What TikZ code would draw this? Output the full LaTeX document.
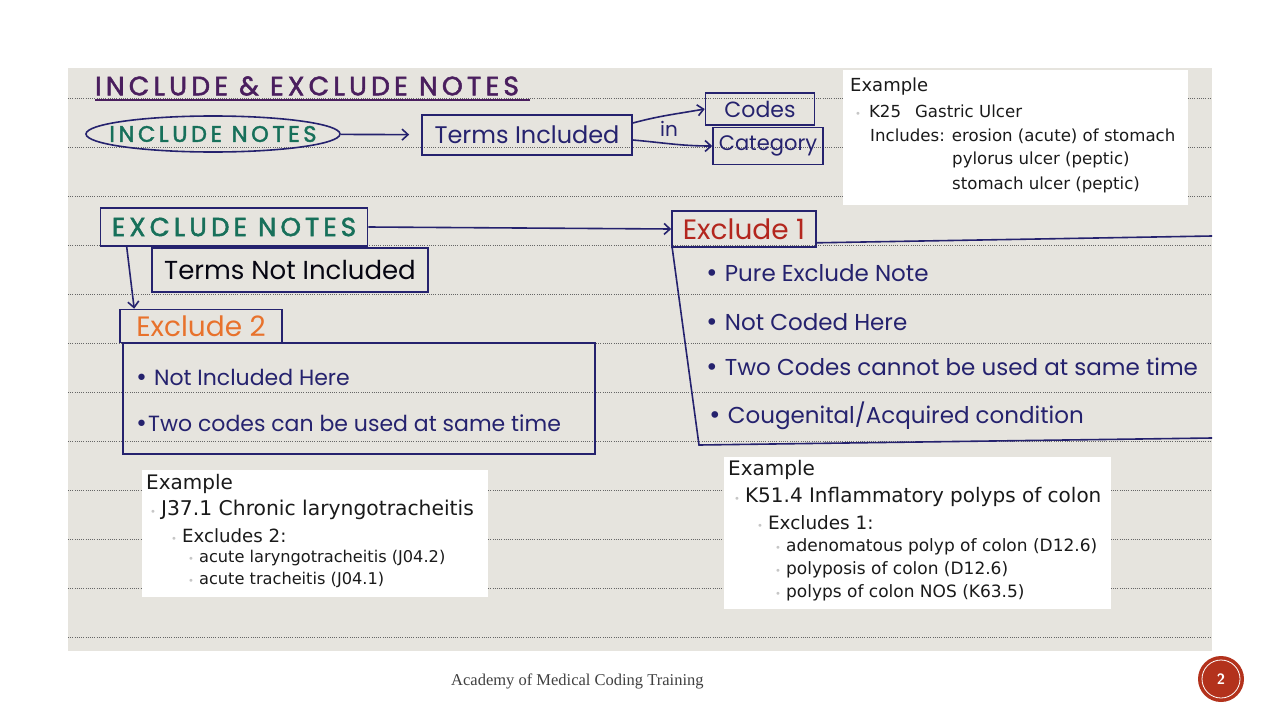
\documentclass[tikz,border=0pt]{standalone}
\usepackage{fontspec}
\usetikzlibrary{shapes.geometric,arrows.meta}
\newfontfamily\handfont{Poppins}
\newfontfamily\handcaps[LetterSpace=16,FakeBold=2]{Poppins}
\newfontfamily\slidefont{DejaVu Sans}
\newfontfamily\footfont{Liberation Serif}
\definecolor{paper}{HTML}{E6E4DE}
\definecolor{ink}{HTML}{25226E}
\definecolor{titlepurple}{HTML}{4A1E5E}
\definecolor{notegreen}{HTML}{17705A}
\definecolor{exorange}{HTML}{E8722C}
\definecolor{exred}{HTML}{B3261E}
\definecolor{slidetext}{HTML}{1A1A1A}
\definecolor{badge}{HTML}{B3321C}
\newcommand\hb{{\slidefont•}}
\newcommand\gb{\textcolor{gray!45}{\fontsize{10}{10}\selectfont•}}

\begin{document}
\begin{tikzpicture}[x=1pt,y=-1pt,
    hf/.style={font=\handfont\fontsize{#1}{#1}\selectfont},
    hc/.style={font=\handcaps\fontsize{#1}{#1}\selectfont},
    lbl/.style={inner sep=0pt, anchor=west},
    box/.style={draw=ink, line width=1.6pt, inner sep=0pt},
    pen/.style={draw=ink, line width=1.6pt},
    arr/.style={draw=ink, line width=1.6pt, -{Straight Barb[length=6pt,width=11pt]}},
    sl/.style={font=\slidefont\fontsize{#1}{#1}\selectfont, text=slidetext, inner sep=0pt, anchor=west},
    card/.style={fill=white, inner sep=0pt, anchor=north west}]
    %page and ruled paper
    \useasboundingbox (0,0) rectangle (1280,720);
    \fill[white] (0,0) rectangle (1280,720);
    \fill[paper] (68,68) rectangle (1212,651);
    \foreach \y in {98,147,...,637}
        \draw[black!60, line width=0.6pt, dash pattern=on 1pt off 1.2pt] (68,\y) -- (1212,\y);

    %title
    \node[lbl, hc=26.5, text=titlepurple] (title) at (95,86) {INCLUDE \& EXCLUDE NOTES};
    \draw[titlepurple, line width=1.3pt] (95,100) -- (530,100);

    %include notes
    \node[ellipse, box, minimum width=254, minimum height=36, inner xsep=-20pt, inner ysep=1pt, hc=22.5, text=notegreen] (incl) at (213,134) {INCLUDE NOTES};
    \node[box, minimum width=210, minimum height=40, hf=24, text=ink] (terms) at (527,135) {Terms Included};
    \node[box, minimum width=109, minimum height=32, hf=22, text=ink] (codes) at (760,109) {Codes};
    \node[box, minimum width=110, minimum height=37, hf=21, text=ink] (cat) at (768,146) {Category};
    \node[lbl, hf=20, text=ink] (in) at (660,129) {in};
    \draw[arr, shorten >=12pt] (incl) -- (terms);
    \draw[arr] ([yshift=12pt]terms.east) to[out=15,in=190] (codes.west);
    \draw[arr] ([yshift=-5pt]terms.east) to[out=-5,in=180] (cat.west);

    %example for include
    \node[card, minimum width=345, minimum height=135] (cardinc) at (843,70) {};
    \node[sl=18] (ci0) at (850,87) {Example};
    \node[sl=16.6] (ci1) at (855,111) {\gb\hspace{8pt}K25\hspace{14pt}Gastric Ulcer};
    \node[sl=16.6] (ci2) at (870,136) {Includes: erosion (acute) of stomach};
    \node[sl=16.6] (ci3) at (952,160) {pylorus ulcer (peptic)};
    \node[sl=16.6] (ci4) at (952,185) {stomach ulcer (peptic)};

    %exclude notes
    \node[box, minimum width=267, minimum height=38, hc=26, text=notegreen] (excl) at (234,227) {EXCLUDE NOTES};
    \node[box, minimum width=276, minimum height=44, hf=26, text=black!85!ink] (notinc) at (290,270) {Terms Not Included};

    %exclude 2
    \node[box, minimum width=162, minimum height=33, hf=28, text=exorange] (ex2) at (201,326) {Exclude 2};
    \node[box, minimum width=472, minimum height=111, anchor=north west] (ex2box) at (122,342) {};
    \node[lbl, hf=22, text=ink] (ex2a) at (135,377) {\hb\ Not Included Here};
    \node[lbl, hf=22, text=ink] (ex2b) at (135,423) {\hb Two codes can be used at same time};
    \draw[arr] ([xshift=27pt]excl.south west) -- ([xshift=15pt]ex2.north west);

    %exclude 1
    \node[box, minimum width=144, minimum height=36, hf=28, text=exred] (ex1) at (744,229) {Exclude 1};
    \draw[pen] ([yshift=5pt]ex1.south east) -- (1212,236);
    \draw[pen] ([xshift=1pt]ex1.south west) -- (699,445) -- (1212,438);
    \node[lbl, hf=23, text=ink] (ex1a) at (705,273) {\hb\ Pure Exclude Note};
    \node[lbl, hf=23, text=ink] (ex1b) at (705,322) {\hb\ Not Coded Here};
    \node[lbl, hf=23, text=ink] (ex1c) at (705,367) {\hb\ Two Codes cannot be used at same time};
    \node[lbl, hf=23, text=ink] (ex1d) at (708,416) {\hb\ Cougenital/Acquired condition};
    \draw[arr] (excl.east) -- (ex1.west);

    %example for exclude 2
    \node[card, minimum width=346, minimum height=127] (cardex2) at (142,470) {};
    \node[sl=20] (c2a) at (146,484) {Example};
    \node[sl=20.3] (c2b) at (150,510) {\gb\hspace{5pt}J37.1 Chronic laryngotracheitis};
    \node[sl=18.2] (c2c) at (171,536) {\gb\hspace{5pt}Excludes 2:};
    \node[sl=16.2] (c2d) at (188,558) {\gb\hspace{5pt}acute laryngotracheitis (J04.2)};
    \node[sl=16.2] (c2e) at (188,580) {\gb\hspace{5pt}acute tracheitis (J04.1)};

    %example for exclude 1
    \node[card, minimum width=387, minimum height=152] (cardex1) at (724,457) {};
    \node[sl=20] (c1a) at (728,470) {Example};
    \node[sl=20] (c1b) at (734,497) {\gb\hspace{5pt}K51.4 Inflammatory polyps of colon};
    \node[sl=18.4] (c1c) at (757,523) {\gb\hspace{5pt}Excludes 1:};
    \node[sl=17] (c1d) at (775,547) {\gb\hspace{5pt}adenomatous polyp of colon (D12.6)};
    \node[sl=17] (c1e) at (775,570) {\gb\hspace{5pt}polyposis of colon (D12.6)};
    \node[sl=17] (c1f) at (775,593) {\gb\hspace{5pt}polyps of colon NOS (K63.5)};

    %footer
    \node[lbl, font=\footfont\fontsize{16.5}{16.5}\selectfont, text=black!75] (foot) at (451,681) {Academy of Medical Coding Training};
    \node[circle, fill=badge, minimum size=46, inner sep=0pt] (badge) at (1221,679) {};
    \draw[white, line width=0.8pt] (badge.center) circle (19);
    \node[font=\sffamily\bfseries\fontsize{15}{15}\selectfont, text=white] (pnum) at (badge.center) {2};
\end{tikzpicture}
\end{document}
